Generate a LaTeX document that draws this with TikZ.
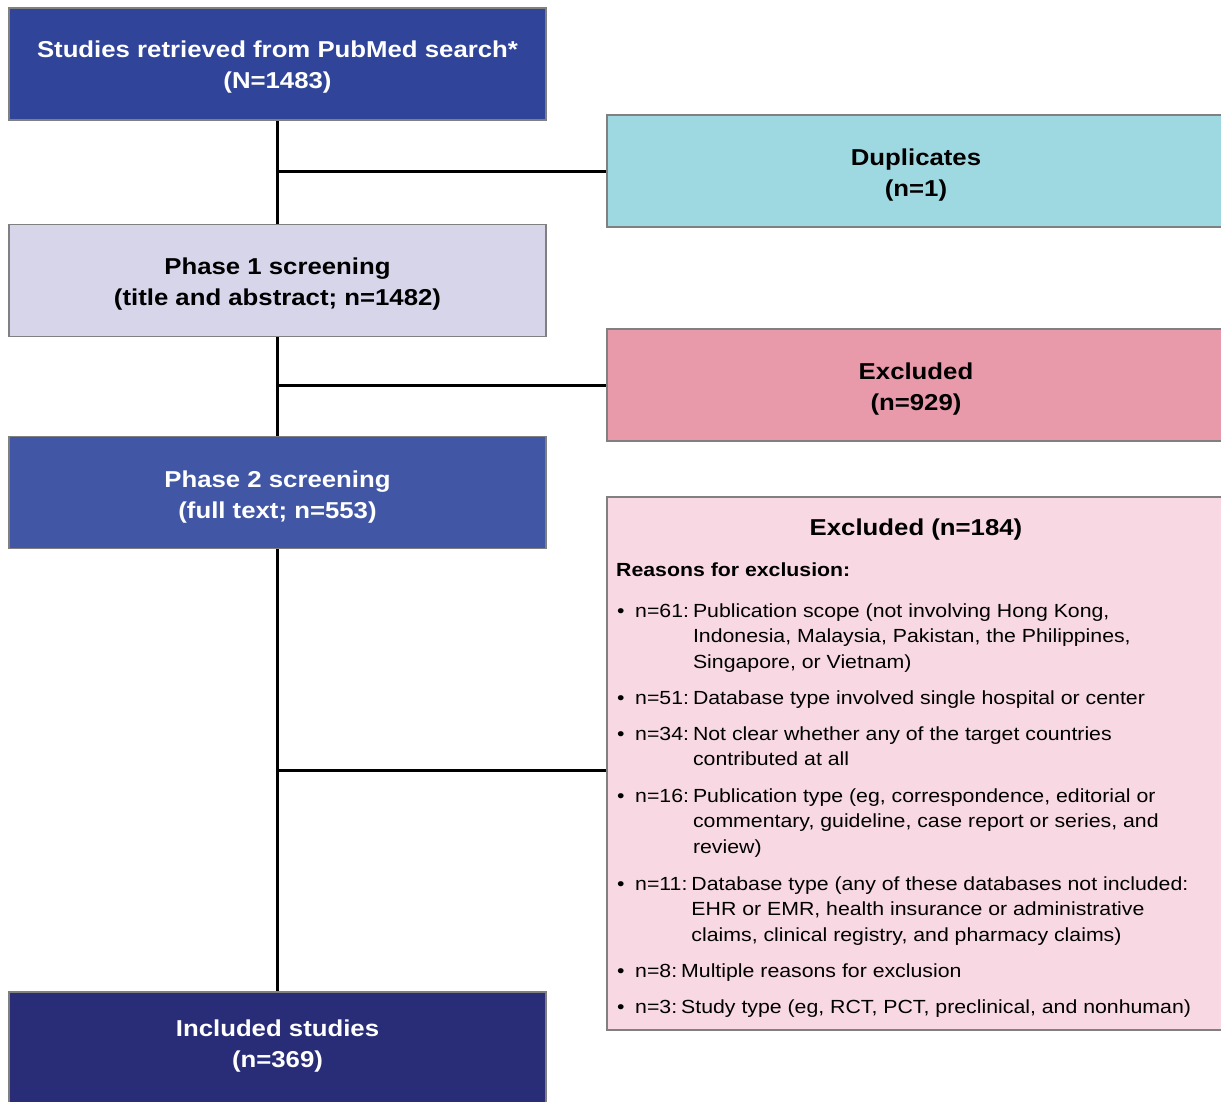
\documentclass[tikz,border=0pt]{standalone}
\usepackage{fontspec}
\setmainfont[FakeStretch=1.12]{Liberation Sans}
\definecolor{cTop}{RGB}{48,69,154}
\definecolor{cPh1}{RGB}{215,213,234}
\definecolor{cPh2}{RGB}{65,87,166}
\definecolor{cInc}{RGB}{41,45,120}
\definecolor{cDup}{RGB}{158,217,226}
\definecolor{cEx1}{RGB}{232,154,171}
\definecolor{cEx2}{RGB}{248,217,227}
\definecolor{cBord}{RGB}{128,128,128}
\newcommand\labsep{\hspace{4pt}}
\begin{document}
\begin{tikzpicture}[x=1pt,y=-1pt,
  box/.style={draw=cBord, line width=1.2pt, inner sep=0pt},
  leftbox/.style={box, minimum width=537pt, minimum height=112pt},
  rightbox/.style={box, minimum width=618pt, minimum height=112pt},
  head/.style={inner sep=0pt, align=center, font=\fontsize{23}{31}\selectfont\bfseries},
  conn/.style={line width=3pt, black},
  itemtext/.style={anchor=base west, inner sep=0pt, font=\fontsize{19}{25.7}\selectfont}]
\useasboundingbox (0,0) rectangle (1221,1101);
\clip (0,0) rectangle (1221,1101);
% left column
\node[leftbox, fill=cTop] (b1) at (277.5,64) {};
\node[head, text=white] (b1t) at (277.5,67) {Studies retrieved from PubMed search*\\(N=1483)};
\node[leftbox, fill=cPh1] (b2) at (277.5,280.5) {};
\node[head, text=black] (b2t) at (277.5,284.5) {Phase 1 screening\\(title and abstract; n=1482)};
\node[leftbox, fill=cPh2] (b3) at (277.5,492.5) {};
\node[head, text=white] (b3t) at (277.5,497.5) {Phase 2 screening\\(full text; n=553)};
\node[leftbox, fill=cInc, minimum height=120pt] (b4) at (277.5,1052) {};
\node[head, text=white] (b4t) at (277.5,1046.5) {Included studies\\(n=369)};
% right column
\node[rightbox, fill=cDup] (dup) at (916,171) {};
\node[head] (dupt) at (916,175.5) {Duplicates\\(n=1)};
\node[rightbox, fill=cEx1] (ex1) at (916,385) {};
\node[head] (ex1t) at (916,389) {Excluded\\(n=929)};
\node[rightbox, fill=cEx2, minimum height=533pt] (ex2) at (916,763.5) {};
\node[head, anchor=base] (ex2t) at (916,535) {Excluded (n=184)};
\node[font=\fontsize{19}{25.7}\selectfont\bfseries, inner sep=0pt, anchor=base west] (reasons) at (616,576) {Reasons for exclusion:};
% bullets
\foreach \y/\n in {617/u1,704/u2,740/u3,802/u4,890/u5,977/u6,1013/u7}
  \node[itemtext] (\n) at (617,\y) {•};
\node[itemtext] (i1) at (635,617) {\begin{tabular}[t]{@{}l@{}}n=61:\labsep Publication scope (not involving Hong Kong,\\\hphantom{n=61:\labsep}Indonesia, Malaysia, Pakistan, the Philippines,\\\hphantom{n=61:\labsep}Singapore, or Vietnam)\end{tabular}};
\node[itemtext] (i2) at (635,704) {n=51:\labsep Database type involved single hospital or center};
\node[itemtext] (i3) at (635,740) {\begin{tabular}[t]{@{}l@{}}n=34:\labsep Not clear whether any of the target countries\\\hphantom{n=34:\labsep}contributed at all\end{tabular}};
\node[itemtext] (i4) at (635,802) {\begin{tabular}[t]{@{}l@{}}n=16:\labsep Publication type (eg, correspondence, editorial or\\\hphantom{n=16:\labsep}commentary, guideline, case report or series, and\\\hphantom{n=16:\labsep}review)\end{tabular}};
\node[itemtext] (i5) at (635,890) {\begin{tabular}[t]{@{}l@{}}n=11:\labsep Database type (any of these databases not included:\\\hphantom{n=11:\labsep}EHR or EMR, health insurance or administrative\\\hphantom{n=11:\labsep}claims, clinical registry, and pharmacy claims)\end{tabular}};
\node[itemtext] (i6) at (635,977) {n=8:\labsep Multiple reasons for exclusion};
\node[itemtext] (i7) at (635,1013) {n=3:\labsep Study type (eg, RCT, PCT, preclinical, and nonhuman)};
% connectors
\draw[conn] (b1.south) -- (b2.north);
\draw[conn] (b2.south) -- (b3.north);
\draw[conn] (b3.south) -- (b4.north);
\draw[conn] (b1.south |- dup.west) -- (dup.west);
\draw[conn] (b2.south |- ex1.west) -- (ex1.west);
\coordinate (j3) at (277.5,770);
\draw[conn] (j3) -- (ex2.west |- j3);
\end{tikzpicture}
\end{document}
